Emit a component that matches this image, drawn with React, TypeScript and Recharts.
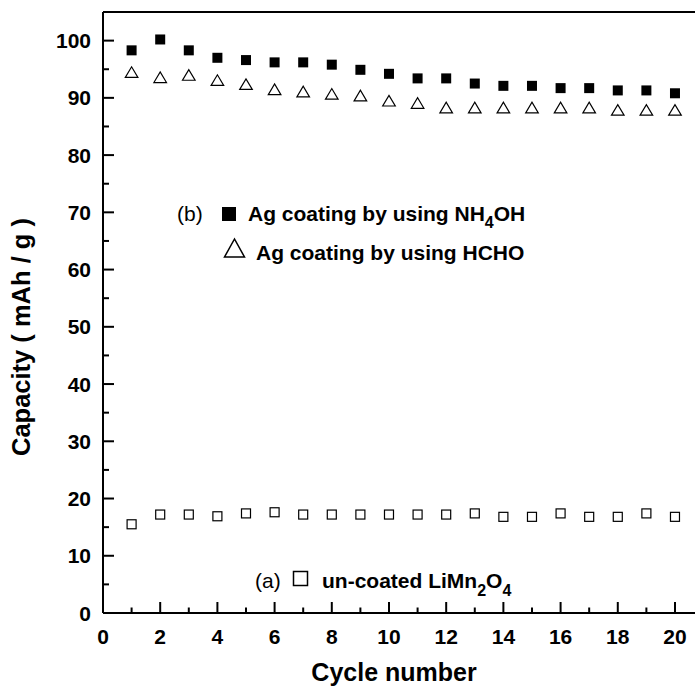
import { ScatterChart, Scatter, XAxis, YAxis } from 'recharts'

const cycles = [1, 2, 3, 4, 5, 6, 7, 8, 9, 10, 11, 12, 13, 14, 15, 16, 17, 18, 19, 20]
const agNH4OH = [98.3, 100.2, 98.3, 97.0, 96.6, 96.2, 96.2, 95.8, 94.9, 94.2, 93.4, 93.4, 92.5, 92.1, 92.1, 91.7, 91.7, 91.3, 91.3, 90.8]
const agHCHO = [94.5, 93.6, 94.0, 93.1, 92.4, 91.5, 91.1, 90.7, 90.4, 89.5, 89.1, 88.3, 88.3, 88.3, 88.3, 88.3, 88.3, 87.9, 87.9, 87.9]
const uncoated = [15.5, 17.2, 17.2, 16.9, 17.4, 17.6, 17.2, 17.2, 17.2, 17.2, 17.2, 17.2, 17.4, 16.8, 16.8, 17.4, 16.8, 16.8, 17.4, 16.8]

const xTicks = [0, 1, 2, 3, 4, 5, 6, 7, 8, 9, 10, 11, 12, 13, 14, 15, 16, 17, 18, 19, 20]
const topTicks = [1, 2, 3, 4, 5, 6, 7, 8, 9, 10, 11, 12, 13, 14, 15, 16, 17, 18, 19, 20]
const yTicks = [0, 5, 10, 15, 20, 25, 30, 35, 40, 45, 50, 55, 60, 65, 70, 75, 80, 85, 90, 95, 100]
const rightTicks = [10, 20, 30, 40, 50, 60, 70, 80, 90, 100]

const W = 696
const H = 686
const FONT = 'Liberation Sans, Arial, sans-serif'
const LEFT_GAP = 12
const BOTTOM_GAP = 16

const toPoints = (vals: number[]) => cycles.map((c, i) => ({ x: c, y: vals[i] }))

function LeftTick(props: any) {
  const { x, y, payload } = props
  const axisX = Number(x) + LEFT_GAP
  const major = payload.value % 10 === 0
  return (
    <g>
      <line x1={axisX} x2={axisX + (major ? 11 : 6)} y1={y} y2={y} stroke="#000" strokeWidth={2} />
      {major && (
        <text x={x} y={y} dy="0.36em" textAnchor="end" fontFamily={FONT} fontWeight="bold" fontSize={21} fill="#000">
          {payload.value}
        </text>
      )}
    </g>
  )
}

function BottomTick(props: any) {
  const { x, y, payload } = props
  const axisY = Number(y) - BOTTOM_GAP
  const major = payload.value % 2 === 0
  return (
    <g>
      <line x1={x} x2={x} y1={axisY} y2={axisY - (major ? 11 : 5.5)} stroke="#000" strokeWidth={2} />
      {major && (
        <text x={x} y={y} dy="0.72em" textAnchor="middle" fontFamily={FONT} fontWeight="bold" fontSize={21} fill="#000">
          {payload.value}
        </text>
      )}
    </g>
  )
}

function TopTick(props: any) {
  const { x, y } = props
  const axisY = Number(y)
  return <line x1={x} x2={x} y1={axisY} y2={axisY + 3.5} stroke="#000" strokeWidth={1.5} />
}

function RightTick(props: any) {
  const { x, y } = props
  const axisX = Number(x)
  return <line x1={axisX - 4} x2={axisX} y1={y} y2={y} stroke="#000" strokeWidth={1.5} />
}

const filledSquare = (p: any) => <rect x={p.cx - 5} y={p.cy - 5} width={10} height={10} fill="#000" />
const openSquare = (p: any) => (
  <rect x={p.cx - 4.5} y={p.cy - 4.5} width={9} height={9} fill="none" stroke="#000" strokeWidth={1.2} />
)
const triangle = (p: any) => (
  <polygon
    points={`${p.cx - 6.3},${p.cy + 5.3} ${p.cx + 6.3},${p.cy + 5.3} ${p.cx},${p.cy - 5.3}`}
    fill="none"
    stroke="#000"
    strokeWidth={1.2}
  />
)

export default function App() {
  const txt = { fontFamily: FONT, fill: '#000' }
  return (
    <div style={{ position: 'absolute', left: 0, top: 0, width: W, height: H }}>
      <ScatterChart width={W} height={H} margin={{ top: 11, right: 0, bottom: 0, left: 0 }}>
        <XAxis
          type="number"
          dataKey="x"
          domain={[0, 20.7]}
          ticks={xTicks}
          interval={0}
          height={73}
          tickSize={0}
          tickMargin={BOTTOM_GAP}
          tick={<BottomTick />}
          tickLine={false}
          axisLine={{ stroke: '#000', strokeWidth: 2 }}
        />
        <XAxis
          xAxisId="top"
          orientation="top"
          type="number"
          domain={[0, 20.7]}
          ticks={topTicks}
          interval={0}
          height={1}
          tickSize={0}
          tickMargin={0}
          tick={<TopTick />}
          tickLine={false}
          axisLine={{ stroke: '#000', strokeWidth: 2 }}
        />
        <YAxis
          type="number"
          dataKey="y"
          domain={[0, 105]}
          ticks={yTicks}
          interval={0}
          width={103}
          tickSize={0}
          tickMargin={LEFT_GAP}
          tick={<LeftTick />}
          tickLine={false}
          axisLine={{ stroke: '#000', strokeWidth: 2 }}
        />
        <YAxis
          yAxisId="right"
          orientation="right"
          type="number"
          domain={[0, 105]}
          ticks={rightTicks}
          interval={0}
          width={1}
          tickSize={0}
          tickMargin={0}
          tick={<RightTick />}
          tickLine={false}
          axisLine={false}
        />
        <Scatter name="Ag coating by using NH4OH" data={toPoints(agNH4OH)} shape={filledSquare} isAnimationActive={false} />
        <Scatter name="Ag coating by using HCHO" data={toPoints(agHCHO)} shape={triangle} isAnimationActive={false} />
        <Scatter name="un-coated LiMn2O4" data={toPoints(uncoated)} shape={openSquare} isAnimationActive={false} />
      </ScatterChart>
      <svg width={W} height={H} style={{ position: 'absolute', left: 0, top: 0, pointerEvents: 'none' }}>
        <text x={30} y={337} transform="rotate(-90 30 337)" textAnchor="middle" fontSize={25.5} fontWeight="bold" {...txt}>
          Capacity ( mAh / g )
        </text>
        <text x={394} y={681} textAnchor="middle" fontSize={25} fontWeight="bold" {...txt}>
          Cycle number
        </text>

        <text x={177} y={221} fontSize={21} {...txt}>(b)</text>
        <rect x={222} y={207} width={14} height={14} fill="#000" />
        <text x={248} y={221} fontSize={21} fontWeight="bold" {...txt}>
          Ag coating by using NH<tspan fontSize={16} dy={7}>4</tspan>
          <tspan dy={-7}>OH</tspan>
        </text>

        <polygon points="224.5,257 244.5,257 234.5,239" fill="none" stroke="#000" strokeWidth={1.5} />
        <text x={256} y={260} fontSize={21} fontWeight="bold" {...txt}>
          Ag coating by using HCHO
        </text>

        <text x={255} y={588} fontSize={21} {...txt}>(a)</text>
        <rect x={293.5} y={571.5} width={14} height={14} fill="none" stroke="#000" strokeWidth={1.5} />
        <text x={322} y={588} fontSize={21} fontWeight="bold" {...txt}>
          un-coated LiMn<tspan fontSize={16} dy={8}>2</tspan>
          <tspan dy={-8}>O</tspan>
          <tspan fontSize={16} dy={8}>4</tspan>
        </text>
      </svg>
    </div>
  )
}
